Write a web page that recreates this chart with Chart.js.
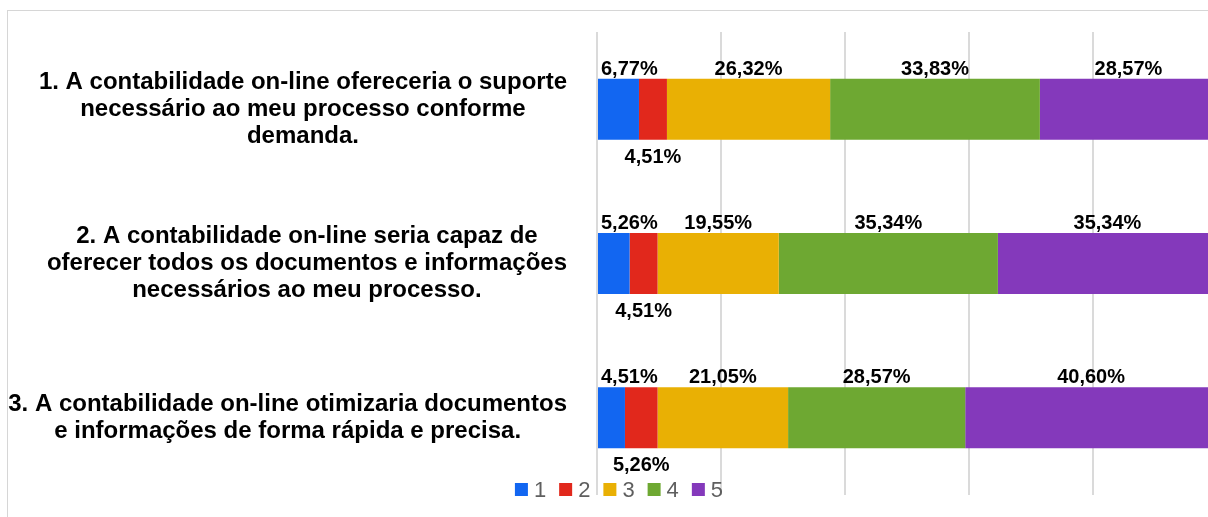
<!DOCTYPE html>
<html>
<head>
<meta charset="utf-8">
<script src="https://cdn.jsdelivr.net/npm/chart.js@4/dist/chart.umd.min.js"></script>
<style>
  html, body { margin: 0; padding: 0; background: #ffffff; overflow: hidden; width: 1208px; height: 517px; }
  #frame { position: absolute; left: 7px; top: 10px; width: 1400px; height: 700px; border-left: 1px solid #d6d6d6; border-top: 1px solid #d6d6d6; }
  #c { position: absolute; left: 0; top: 0; }
</style>
</head>
<body>
<div id="frame"></div>
<canvas id="c" width="1230" height="517"></canvas>
<script>
// ---- data ----
const categories = [
  ["1. A contabilidade on-line ofereceria o suporte", "necessário ao meu processo conforme", "demanda."],
  ["2. A contabilidade on-line seria capaz de", "oferecer todos os documentos e informações", "necessários ao meu processo."],
  ["3. A contabilidade on-line otimizaria documentos", "e informações de forma rápida e precisa."]
];
const seriesNames = ["1", "2", "3", "4", "5"];
const series1 = [6.77, 5.26, 4.51];
const series2 = [4.51, 4.51, 5.26];
const series3 = [26.32, 19.55, 21.05];
const series4 = [33.83, 35.34, 28.57];
const series5 = [28.57, 35.34, 40.60];
const xTicks = [0, 20, 40, 60, 80, 100];

const colors = ["#1266f1", "#e1281c", "#e9b004", "#6ea832", "#8439bb"];
const allSeries = [series1, series2, series3, series4, series5];

const FONT = "'Liberation Sans', Arial, sans-serif";

const yLabelPlugin = {
  id: 'yLabels',
  afterDraw(chart) {
    const ctx = chart.ctx;
    const y = chart.scales.y;
    const right = chart.chartArea.left - 30;
    const lh = 27;
    ctx.save();
    ctx.font = "bold 24px " + FONT;
    ctx.fillStyle = "#000000";
    ctx.textAlign = "center";
    ctx.textBaseline = "middle";
    categories.forEach((lines, i) => {
      const cy = y.getPixelForValue(i);
      const w = Math.max(...lines.map(l => ctx.measureText(l).width));
      const cx = right - w / 2;
      const top = cy - (lines.length - 1) * lh / 2;
      lines.forEach((l, k) => ctx.fillText(l, cx, top + k * lh));
    });
    ctx.restore();
  }
};

const dataLabelPlugin = {
  id: 'dataLabels',
  afterDatasetsDraw(chart) {
    const ctx = chart.ctx;
    const left = chart.chartArea.left;
    ctx.save();
    ctx.font = "bold 20px " + FONT;
    ctx.fillStyle = "#000000";
    ctx.textAlign = "center";
    ctx.textBaseline = "alphabetic";
    chart.data.datasets.forEach((ds, i) => {
      const meta = chart.getDatasetMeta(i);
      meta.data.forEach((el, j) => {
        const p = el.getProps(['x', 'base', 'y', 'height'], true);
        const txt = ds.data[j].toFixed(2).replace('.', ',') + '%';
        const w = ctx.measureText(txt).width;
        let cx = (p.x + p.base) / 2;
        if (cx - w / 2 < left + 4) cx = left + 4 + w / 2;
        let ty;
        if (i === 1) ty = p.y + p.height / 2 + 23;
        else ty = p.y - p.height / 2 - 4;
        ctx.fillText(txt, cx, ty);
      });
    });
    ctx.restore();
  }
};

const legendPlugin = {
  id: 'customLegend',
  afterDraw(chart) {
    const ctx = chart.ctx;
    ctx.save();
    ctx.font = "22px " + FONT;
    ctx.textBaseline = "alphabetic";
    ctx.textAlign = "left";
    const box = 13, gap = 6, pad = 13;
    const items = chart.data.datasets.map(d => ({ label: d.label, color: d.backgroundColor }));
    const widths = items.map(it => box + gap + ctx.measureText(it.label).width);
    const total = widths.reduce((a, b) => a + b, 0) + pad * (items.length - 1);
    let x = 619 - total / 2;
    const boxTop = 483;
    items.forEach((it, k) => {
      ctx.fillStyle = it.color;
      ctx.fillRect(x, boxTop, box, box);
      ctx.fillStyle = "#5f5f5f";
      ctx.fillText(it.label, x + box + gap, 497);
      x += widths[k] + pad;
    });
    ctx.restore();
  }
};

new Chart(document.getElementById('c'), {
  type: 'bar',
  data: {
    labels: categories.map(c => c.join(' ')),
    datasets: allSeries.map((s, i) => ({
      label: seriesNames[i],
      data: s,
      backgroundColor: colors[i],
      borderWidth: 0,
      categoryPercentage: 1,
      barPercentage: 0.395
    }))
  },
  options: {
    indexAxis: 'y',
    responsive: false,
    animation: false,
    devicePixelRatio: 1,
    layout: { padding: { left: 597, top: 32, right: 13, bottom: 22 } },
    plugins: { legend: { display: false }, tooltip: { enabled: false } },
    scales: {
      x: {
        stacked: true,
        min: 0, max: 100,
        afterBuildTicks(s) { s.ticks = xTicks.map(v => ({ value: v })); },
        ticks: { display: false },
        grid: { color: '#dadada', lineWidth: 2, drawTicks: false },
        border: { display: false },
        afterFit(s) { s.height = 0; }
      },
      y: {
        stacked: true,
        display: false
      }
    }
  },
  plugins: [yLabelPlugin, dataLabelPlugin, legendPlugin]
});
</script>
</body>
</html>
